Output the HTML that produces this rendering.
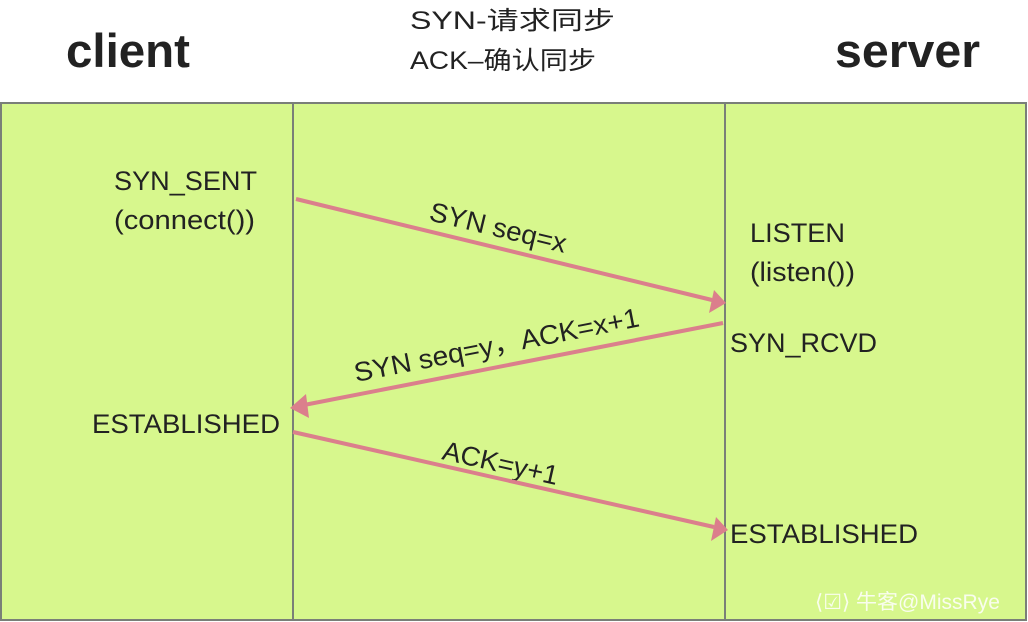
<!DOCTYPE html>
<html><head><meta charset="utf-8"><style>
body{margin:0;width:1028px;height:622px;background:#fff;overflow:hidden;font-family:"Liberation Sans","Noto Sans CJK SC",sans-serif;}
</style></head><body>
<svg width="1028" height="622" xmlns="http://www.w3.org/2000/svg" style="position:absolute;left:0;top:0">
<rect x="1" y="103" width="1025" height="517" fill="#d7f78d" stroke="#7a7f78" stroke-width="2"/>
<line x1="293" y1="103" x2="293" y2="620" stroke="#7a7f78" stroke-width="2"/>
<line x1="725" y1="103" x2="725" y2="620" stroke="#7a7f78" stroke-width="2"/>
<g font-family="Liberation Sans, Noto Sans CJK SC, sans-serif" fill="#222">
<text x="66" y="67" font-size="47" font-weight="bold" textLength="124" lengthAdjust="spacingAndGlyphs">client</text>
<text x="835" y="67" font-size="47" font-weight="bold" textLength="145" lengthAdjust="spacingAndGlyphs">server</text>
<text x="410" y="29" font-size="25" textLength="205" lengthAdjust="spacingAndGlyphs">SYN-请求同步</text>
<text x="410" y="69" font-size="25" textLength="186" lengthAdjust="spacingAndGlyphs">ACK–确认同步</text>
<text x="114" y="190" font-size="27" textLength="143" lengthAdjust="spacingAndGlyphs">SYN_SENT</text>
<text x="114" y="229" font-size="27" textLength="141" lengthAdjust="spacingAndGlyphs">(connect())</text>
<text x="750" y="242" font-size="27" textLength="95" lengthAdjust="spacingAndGlyphs">LISTEN</text>
<text x="750" y="281" font-size="27" textLength="105" lengthAdjust="spacingAndGlyphs">(listen())</text>
<text x="730" y="352" font-size="27" textLength="147" lengthAdjust="spacingAndGlyphs">SYN_RCVD</text>
<text x="92" y="433" font-size="27" textLength="188" lengthAdjust="spacingAndGlyphs">ESTABLISHED</text>
<text x="730" y="543" font-size="27" textLength="188" lengthAdjust="spacingAndGlyphs">ESTABLISHED</text>
<text font-size="27" transform="translate(428,220) rotate(13.6)" textLength="140" lengthAdjust="spacingAndGlyphs">SYN seq=x</text>
<text font-size="27" transform="translate(356,382) rotate(-11.1)" textLength="290" lengthAdjust="spacingAndGlyphs">SYN seq=y，ACK=x+1</text>
<text font-size="27" transform="translate(441,459) rotate(12.7)" textLength="118" lengthAdjust="spacingAndGlyphs">ACK=y+1</text>
<text x="815" y="609" font-size="21" fill="#ffffff" opacity="0.85">⟨☑⟩ 牛客@MissRye</text>
</g>
<g stroke="#db7f8c" stroke-width="4" fill="#db7f8c">
<line x1="296" y1="199" x2="712" y2="300"/>
<polygon points="726,303 709,313 714,290" stroke="none"/>
<line x1="723" y1="323" x2="304" y2="405"/>
<polygon points="290,408 306,394 309,418" stroke="none"/>
<line x1="293" y1="432" x2="714" y2="527"/>
<polygon points="728,530 711,541 716,517" stroke="none"/>
</g>
</svg>
</body></html>
